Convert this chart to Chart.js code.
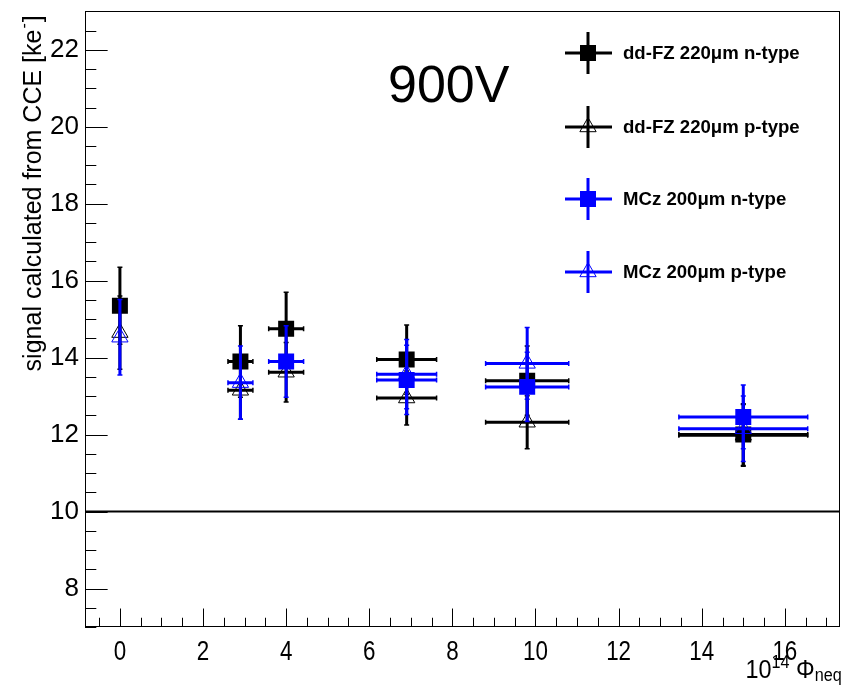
<!DOCTYPE html>
<html>
<head>
<meta charset="utf-8">
<script src="https://cdn.jsdelivr.net/npm/chart.js@4.4.0/dist/chart.umd.min.js"></script>
<style>
  html, body { margin: 0; padding: 0; background: #fff; }
  canvas { display: block; }
</style>
</head>
<body>
<canvas id="cce" width="851" height="685"></canvas>
<script>
'use strict';

// fluence in 1e14 neq, signal in ke-
const FZ_N_X    = [0, 2.9, 4, 6.9, 9.8, 15];
const FZ_N_XERR = [0, 0.3, 0.42, 0.72, 1.0, 1.55];
const FZ_N_Y    = [15.35, 13.9, 14.75, 13.95, 13.4, 12.0];
const FZ_N_YERR = [1.0, 0.93, 0.95, 0.9, 0.9, 0.8];

const FZ_P_X    = [0, 2.9, 4, 6.9, 9.8, 15];
const FZ_P_XERR = [0, 0.3, 0.42, 0.72, 1.0, 1.55];
const FZ_P_Y    = [14.65, 13.15, 13.62, 12.95, 12.32, 11.98];
const FZ_P_YERR = [0.95, 0.75, 0.77, 0.7, 0.69, 0.8];

const MCZ_N_X    = [4, 6.9, 9.8, 15];
const MCZ_N_XERR = [0.42, 0.72, 1.0, 1.55];
const MCZ_N_Y    = [13.9, 13.42, 13.24, 12.46];
const MCZ_N_YERR = [0.93, 0.9, 0.9, 0.83];

const MCZ_P_X    = [0, 2.9, 6.9, 9.8, 15];
const MCZ_P_XERR = [0, 0.3, 0.72, 1.0, 1.55];
const MCZ_P_Y    = [14.53, 13.35, 13.57, 13.85, 12.15];
const MCZ_P_YERR = [0.98, 0.95, 0.9, 0.93, 0.85];

const SERIES_LABELS = ['dd-FZ 220\u03bcm n-type', 'dd-FZ 220\u03bcm p-type', 'MCz 200\u03bcm n-type', 'MCz 200\u03bcm p-type'];

const X_TICKS = [0, 2, 4, 6, 8, 10, 12, 14, 16];
const Y_TICKS = [8, 10, 12, 14, 16, 18, 20, 22];
const MINOR_STEP = 0.5;
const X_MIN = -0.84, X_MAX = 17.32;
const Y_MIN = 7, Y_MAX = 23;
const REF_LEVEL = 10;
const VOLTAGE = '900V';

const FONT = '"Liberation Sans", Arial, sans-serif';
const BLUE = '#0000ff';

function points(xs, ys) {
    return xs.map((x, i) => ({ x, y: ys[i] }));
}

function series(i, xs, ys, xErr, yErr, color, style, order) {
    const filled = style === 'rect';
    return {
        label: SERIES_LABELS[i],
        data: points(xs, ys),
        xErr, yErr, color,
        pointStyle: style,
        pointRadius: filled ? 11.3 : 9.4,
        pointBackgroundColor: filled ? color : 'rgba(0,0,0,0)',
        pointBorderColor: color,
        pointBorderWidth: filled ? 0 : 1,
        showLine: false,
        order
    };
}

// ROOT-like marker for the legend, same geometry as Chart.js point styles
function drawMarker(ctx, ds, x, y) {
    const r = ds.pointRadius;
    ctx.beginPath();
    if (ds.pointStyle === 'rect') {
        const s = r * Math.SQRT1_2;
        ctx.rect(x - s, y - s, 2 * s, 2 * s);
        ctx.fillStyle = ds.color;
        ctx.fill();
    } else {
        const a = Math.PI / 180 * 120;
        ctx.moveTo(x, y - r);
        ctx.lineTo(x + Math.sin(a) * r, y - Math.cos(a) * r);
        ctx.lineTo(x - Math.sin(a) * r, y - Math.cos(a) * r);
        ctx.closePath();
        ctx.lineWidth = 1;
        ctx.strokeStyle = ds.color;
        ctx.stroke();
    }
}

// condensed text, like the ROOT x axis labels
function narrowText(ctx, text, x, y, font, squeeze) {
    ctx.save();
    ctx.font = font;
    ctx.translate(x, y);
    ctx.scale(squeeze, 1);
    ctx.fillText(text, 0, 0);
    ctx.restore();
}

const errorBars = {
    id: 'errorBars',
    beforeDatasetDraw(chart, args) {
        const ds = chart.data.datasets[args.index];
        const sx = chart.scales.x, sy = chart.scales.y;
        const ctx = chart.ctx;
        ctx.save();
        ctx.strokeStyle = ds.color;
        ds.data.forEach((p, i) => {
            const px = sx.getPixelForValue(p.x), py = sy.getPixelForValue(p.y);
            const ex = ds.xErr[i], ey = ds.yErr[i];
            ctx.lineWidth = 3;
            ctx.beginPath();
            const t = sy.getPixelForValue(p.y + ey), b = sy.getPixelForValue(p.y - ey);
            ctx.moveTo(px, t); ctx.lineTo(px, b);
            let l = px, r = px;
            if (ex > 0) {
                l = sx.getPixelForValue(p.x - ex);
                r = sx.getPixelForValue(p.x + ex);
                ctx.moveTo(l, py); ctx.lineTo(r, py);
            }
            ctx.stroke();
            // small end caps
            ctx.lineWidth = 1.5;
            ctx.beginPath();
            ctx.moveTo(px - 2.5, t); ctx.lineTo(px + 2.5, t);
            ctx.moveTo(px - 2.5, b); ctx.lineTo(px + 2.5, b);
            if (ex > 0) {
                ctx.moveTo(l, py - 2.5); ctx.lineTo(l, py + 2.5);
                ctx.moveTo(r, py - 2.5); ctx.lineTo(r, py + 2.5);
            }
            ctx.stroke();
        });
        ctx.restore();
    }
};

const frameAndDecor = {
    id: 'frameAndDecor',
    beforeDatasetsDraw(chart) {
        const { ctx, chartArea: a } = chart;
        const sx = chart.scales.x, sy = chart.scales.y;
        ctx.save();
        ctx.strokeStyle = '#000';
        ctx.lineWidth = 1;
        ctx.strokeRect(Math.round(a.left) + 0.5, Math.round(a.top) + 0.5,
            Math.round(a.right - a.left) - 1, Math.round(a.bottom - a.top) - 1);

        // ticks drawn inside the frame
        ctx.beginPath();
        const yMaj = (a.right - a.left) * 0.03, xMaj = (a.bottom - a.top) * 0.03;
        for (let v = Math.ceil(Y_MIN / MINOR_STEP) * MINOR_STEP; v <= Y_MAX; v += MINOR_STEP) {
            const py = Math.round(sy.getPixelForValue(v)) + 0.5;
            const len = Y_TICKS.includes(v) ? yMaj : yMaj / 2;
            ctx.moveTo(a.left, py); ctx.lineTo(a.left + len, py);
        }
        for (let v = Math.ceil(X_MIN / MINOR_STEP) * MINOR_STEP; v <= X_MAX; v += MINOR_STEP) {
            const px = Math.round(sx.getPixelForValue(v)) + 0.5;
            const len = X_TICKS.includes(v) ? xMaj : xMaj / 2;
            ctx.moveTo(px, a.bottom); ctx.lineTo(px, a.bottom - len);
        }
        ctx.stroke();

        // x tick labels, condensed
        ctx.fillStyle = '#000';
        ctx.textAlign = 'center';
        ctx.textBaseline = 'alphabetic';
        X_TICKS.forEach(v => {
            narrowText(ctx, String(v), sx.getPixelForValue(v), a.bottom + 33, '28px ' + FONT, 0.8);
        });
        ctx.restore();
    },
    afterDatasetsDraw(chart) {
        const { ctx, chartArea: a } = chart;
        const py = chart.scales.y.getPixelForValue(REF_LEVEL);
        ctx.save();
        ctx.strokeStyle = '#000';
        ctx.lineWidth = 2;
        ctx.beginPath();
        ctx.moveTo(a.left, py); ctx.lineTo(a.right, py);
        ctx.stroke();
        ctx.restore();
    },
    afterDraw(chart) {
        const { ctx, chartArea: a } = chart;
        ctx.save();
        ctx.fillStyle = '#000';

        // y title, rotated, right-aligned to the top of the axis
        ctx.save();
        ctx.translate(41, a.top + 4);
        ctx.rotate(-Math.PI / 2);
        ctx.textBaseline = 'alphabetic';
        const main = 'signal calculated from CCE [ke', sup = '-', tail = ']';
        ctx.font = '25px ' + FONT;
        const wMain = ctx.measureText(main).width, wTail = ctx.measureText(tail).width;
        ctx.font = '16px ' + FONT;
        const wSup = ctx.measureText(sup).width;
        const x0 = -(wMain + wSup + wTail + 2);
        ctx.font = '25px ' + FONT;
        ctx.fillText(main, x0, 0);
        ctx.font = '16px ' + FONT;
        ctx.fillText(sup, x0 + wMain + 1, -12);
        ctx.font = '25px ' + FONT;
        ctx.fillText(tail, x0 + wMain + wSup + 2, 0);
        ctx.restore();

        // x title: 10^14 Phi_neq, right-aligned under the frame
        const sq = 0.9;
        const parts = [
            { t: '10', f: '26px ' + FONT, dy: 0 },
            { t: '14', f: '18px ' + FONT, dy: -10 },
            { t: ' \u03a6', f: '26px ' + FONT, dy: 0 },
            { t: 'neq', f: '18px ' + FONT, dy: 3 }
        ];
        let total = 0;
        parts.forEach(p => { ctx.font = p.f; p.w = ctx.measureText(p.t).width * sq; total += p.w; });
        let xp = a.right + 2 - total;
        ctx.textAlign = 'left';
        ctx.textBaseline = 'alphabetic';
        parts.forEach(p => { narrowText(ctx, p.t, xp, 678 + p.dy, p.f, sq); xp += p.w; });

        // voltage label
        ctx.font = '52px ' + FONT;
        ctx.fillText(VOLTAGE, 388, 102);

        // legend
        const rows = [53, 127, 199, 272];
        chart.data.datasets.forEach((ds, i) => {
            const cy = rows[i], cx = 588;
            ctx.strokeStyle = ds.color;
            ctx.lineWidth = 3;
            ctx.beginPath();
            ctx.moveTo(cx - 23, cy); ctx.lineTo(cx + 24, cy);
            ctx.moveTo(cx, cy - 21); ctx.lineTo(cx, cy + 21);
            ctx.stroke();
            drawMarker(ctx, ds, cx, cy);
            ctx.fillStyle = '#000';
            ctx.font = 'bold 18.6px ' + FONT;
            ctx.textBaseline = 'middle';
            ctx.fillText(ds.label, 623, cy + 1);
        });
        ctx.restore();
    }
};

const datasets = [
    series(0, FZ_N_X, FZ_N_Y, FZ_N_XERR, FZ_N_YERR, '#000000', 'rect', 4),
    series(1, FZ_P_X, FZ_P_Y, FZ_P_XERR, FZ_P_YERR, '#000000', 'triangle', 3),
    series(2, MCZ_N_X, MCZ_N_Y, MCZ_N_XERR, MCZ_N_YERR, BLUE, 'rect', 2),
    series(3, MCZ_P_X, MCZ_P_Y, MCZ_P_XERR, MCZ_P_YERR, BLUE, 'triangle', 1)
];

new Chart(document.getElementById('cce').getContext('2d'), {
    type: 'scatter',
    data: { datasets },
    plugins: [errorBars, frameAndDecor],
    options: {
        responsive: false,
        animation: false,
        events: [],
        layout: { padding: { top: 8, right: 11, left: 0, bottom: 0 } },
        plugins: { legend: { display: false }, tooltip: { enabled: false } },
        scales: {
            x: {
                type: 'linear', min: X_MIN, max: X_MAX,
                afterBuildTicks: s => { s.ticks = X_TICKS.map(v => ({ value: v })); },
                afterFit: s => { s.height = 58; s.paddingLeft = 0; s.paddingRight = 0; },
                grid: { display: false, drawTicks: false },
                border: { display: false },
                ticks: { display: false }
            },
            y: {
                type: 'linear', min: Y_MIN, max: Y_MAX,
                afterBuildTicks: s => { s.ticks = Y_TICKS.map(v => ({ value: v })); },
                afterFit: s => { s.width = 85; s.paddingTop = 0; s.paddingBottom = 0; },
                grid: { display: false, drawTicks: false },
                border: { display: false },
                ticks: { color: '#000', font: { family: FONT, size: 26 }, padding: 6, autoSkip: false }
            }
        }
    }
});
</script>
</body>
</html>
